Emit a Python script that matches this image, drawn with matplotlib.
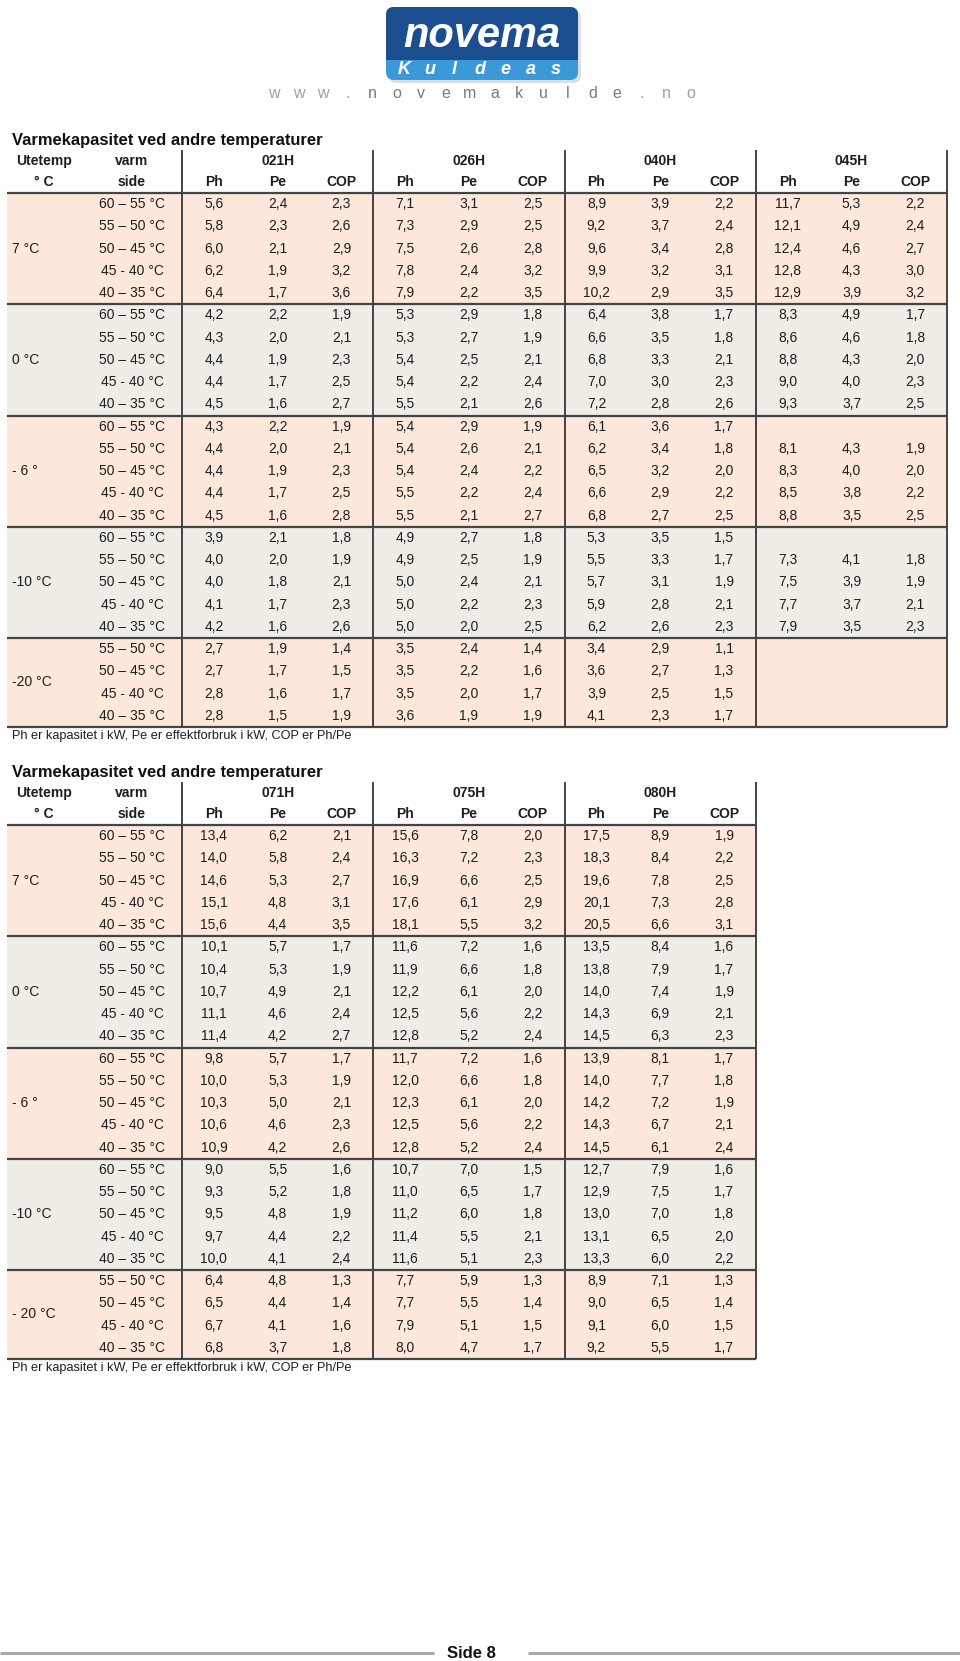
import numpy as np
import matplotlib.pyplot as plt
from matplotlib.patches import FancyBboxPatch, Rectangle
from matplotlib import font_manager


def pick_font(names):
    for n in names:
        try:
            font_manager.findfont(n, fallback_to_default=False)
            return n
        except ValueError:
            continue
    return 'DejaVu Sans'


NARROW = pick_font(['Liberation Sans Narrow', 'Arial Narrow', 'Liberation Sans'])
SANS = pick_font(['Liberation Sans', 'Arial', 'DejaVu Sans'])

# ---- data -------------------------------------------------------------
TITLE = 'Varmekapasitet ved andre temperaturer'
NOTE = 'Ph er kapasitet i kW, Pe er effektforbruk i kW, COP er Ph/Pe'
SIDE_5 = ['60 – 55 °C', '55 – 50 °C', '50 – 45 °C', '45 - 40 °C', '40 – 35 °C']
SIDE_4 = SIDE_5[1:]
GROUP_SIZES = [5, 5, 5, 5, 4]

T1_MODELS = ['021H', '026H', '040H', '045H']
T1_GROUPS = ['7 °C', '0 °C', '- 6 °', '-10 °C', '-20 °C']

ph_021h = [5.6, 5.8, 6.0, 6.2, 6.4, 4.2, 4.3, 4.4, 4.4, 4.5, 4.3, 4.4, 4.4, 4.4, 4.5,
           3.9, 4.0, 4.0, 4.1, 4.2, 2.7, 2.7, 2.8, 2.8]
pe_021h = [2.4, 2.3, 2.1, 1.9, 1.7, 2.2, 2.0, 1.9, 1.7, 1.6, 2.2, 2.0, 1.9, 1.7, 1.6,
           2.1, 2.0, 1.8, 1.7, 1.6, 1.9, 1.7, 1.6, 1.5]
cop_021h = [2.3, 2.6, 2.9, 3.2, 3.6, 1.9, 2.1, 2.3, 2.5, 2.7, 1.9, 2.1, 2.3, 2.5, 2.8,
            1.8, 1.9, 2.1, 2.3, 2.6, 1.4, 1.5, 1.7, 1.9]

ph_026h = [7.1, 7.3, 7.5, 7.8, 7.9, 5.3, 5.3, 5.4, 5.4, 5.5, 5.4, 5.4, 5.4, 5.5, 5.5,
           4.9, 4.9, 5.0, 5.0, 5.0, 3.5, 3.5, 3.5, 3.6]
pe_026h = [3.1, 2.9, 2.6, 2.4, 2.2, 2.9, 2.7, 2.5, 2.2, 2.1, 2.9, 2.6, 2.4, 2.2, 2.1,
           2.7, 2.5, 2.4, 2.2, 2.0, 2.4, 2.2, 2.0, 1.9]
cop_026h = [2.5, 2.5, 2.8, 3.2, 3.5, 1.8, 1.9, 2.1, 2.4, 2.6, 1.9, 2.1, 2.2, 2.4, 2.7,
            1.8, 1.9, 2.1, 2.3, 2.5, 1.4, 1.6, 1.7, 1.9]

ph_040h = [8.9, 9.2, 9.6, 9.9, 10.2, 6.4, 6.6, 6.8, 7.0, 7.2, 6.1, 6.2, 6.5, 6.6, 6.8,
           5.3, 5.5, 5.7, 5.9, 6.2, 3.4, 3.6, 3.9, 4.1]
pe_040h = [3.9, 3.7, 3.4, 3.2, 2.9, 3.8, 3.5, 3.3, 3.0, 2.8, 3.6, 3.4, 3.2, 2.9, 2.7,
           3.5, 3.3, 3.1, 2.8, 2.6, 2.9, 2.7, 2.5, 2.3]
cop_040h = [2.2, 2.4, 2.8, 3.1, 3.5, 1.7, 1.8, 2.1, 2.3, 2.6, 1.7, 1.8, 2.0, 2.2, 2.5,
            1.5, 1.7, 1.9, 2.1, 2.3, 1.1, 1.3, 1.5, 1.7]

ph_045h = [11.7, 12.1, 12.4, 12.8, 12.9, 8.3, 8.6, 8.8, 9.0, 9.3, None, 8.1, 8.3, 8.5, 8.8,
           None, 7.3, 7.5, 7.7, 7.9, None, None, None, None]
pe_045h = [5.3, 4.9, 4.6, 4.3, 3.9, 4.9, 4.6, 4.3, 4.0, 3.7, None, 4.3, 4.0, 3.8, 3.5,
           None, 4.1, 3.9, 3.7, 3.5, None, None, None, None]
cop_045h = [2.2, 2.4, 2.7, 3.0, 3.2, 1.7, 1.8, 2.0, 2.3, 2.5, None, 1.9, 2.0, 2.2, 2.5,
            None, 1.8, 1.9, 2.1, 2.3, None, None, None, None]

T2_MODELS = ['071H', '075H', '080H']
T2_GROUPS = ['7 °C', '0 °C', '- 6 °', '-10 °C', '- 20 °C']

ph_071h = [13.4, 14.0, 14.6, 15.1, 15.6, 10.1, 10.4, 10.7, 11.1, 11.4, 9.8, 10.0, 10.3, 10.6, 10.9,
           9.0, 9.3, 9.5, 9.7, 10.0, 6.4, 6.5, 6.7, 6.8]
pe_071h = [6.2, 5.8, 5.3, 4.8, 4.4, 5.7, 5.3, 4.9, 4.6, 4.2, 5.7, 5.3, 5.0, 4.6, 4.2,
           5.5, 5.2, 4.8, 4.4, 4.1, 4.8, 4.4, 4.1, 3.7]
cop_071h = [2.1, 2.4, 2.7, 3.1, 3.5, 1.7, 1.9, 2.1, 2.4, 2.7, 1.7, 1.9, 2.1, 2.3, 2.6,
            1.6, 1.8, 1.9, 2.2, 2.4, 1.3, 1.4, 1.6, 1.8]

ph_075h = [15.6, 16.3, 16.9, 17.6, 18.1, 11.6, 11.9, 12.2, 12.5, 12.8, 11.7, 12.0, 12.3, 12.5, 12.8,
           10.7, 11.0, 11.2, 11.4, 11.6, 7.7, 7.7, 7.9, 8.0]
pe_075h = [7.8, 7.2, 6.6, 6.1, 5.5, 7.2, 6.6, 6.1, 5.6, 5.2, 7.2, 6.6, 6.1, 5.6, 5.2,
           7.0, 6.5, 6.0, 5.5, 5.1, 5.9, 5.5, 5.1, 4.7]
cop_075h = [2.0, 2.3, 2.5, 2.9, 3.2, 1.6, 1.8, 2.0, 2.2, 2.4, 1.6, 1.8, 2.0, 2.2, 2.4,
            1.5, 1.7, 1.8, 2.1, 2.3, 1.3, 1.4, 1.5, 1.7]

ph_080h = [17.5, 18.3, 19.6, 20.1, 20.5, 13.5, 13.8, 14.0, 14.3, 14.5, 13.9, 14.0, 14.2, 14.3, 14.5,
           12.7, 12.9, 13.0, 13.1, 13.3, 8.9, 9.0, 9.1, 9.2]
pe_080h = [8.9, 8.4, 7.8, 7.3, 6.6, 8.4, 7.9, 7.4, 6.9, 6.3, 8.1, 7.7, 7.2, 6.7, 6.1,
           7.9, 7.5, 7.0, 6.5, 6.0, 7.1, 6.5, 6.0, 5.5]
cop_080h = [1.9, 2.2, 2.5, 2.8, 3.1, 1.6, 1.7, 1.9, 2.1, 2.3, 1.7, 1.8, 1.9, 2.1, 2.4,
            1.6, 1.7, 1.8, 2.0, 2.2, 1.3, 1.4, 1.5, 1.7]

T1_DATA = [(ph_021h, pe_021h, cop_021h), (ph_026h, pe_026h, cop_026h),
           (ph_040h, pe_040h, cop_040h), (ph_045h, pe_045h, cop_045h)]
T2_DATA = [(ph_071h, pe_071h, cop_071h), (ph_075h, pe_075h, cop_075h),
           (ph_080h, pe_080h, cop_080h)]

# ---- figure -----------------------------------------------------------
W, H = 960, 1661
fig = plt.figure(figsize=(W / 100, H / 100), dpi=100)
ax = fig.add_axes([0, 0, 1, 1])
ax.set_xlim(0, W)
ax.set_ylim(H, 0)
ax.axis('off')

FILLS = ['#fde8db', '#efede6']
LINE = '#444444'
TXT = '#1e1e1e'


def fmt(v):
    return '' if v is None else f'{v:.1f}'.replace('.', ',')


def draw_table(line_y, models, groups, data):
    x_left, x_side, block_w, row_h = 7, 182, 191.3, 22.25
    x_right = x_side + block_w * len(models)
    bottom = line_y + row_h * sum(GROUP_SIZES)

    ax.text(12, line_y - 53, TITLE, fontsize=11.9, fontweight='bold', family=SANS,
            ha='left', va='center', color='#111111')

    r = 0
    for gi, n in enumerate(GROUP_SIZES):
        y0 = line_y + r * row_h
        ax.add_patch(Rectangle((x_left, y0), x_right - x_left, n * row_h,
                               fc=FILLS[gi % 2], ec='none', zorder=0))
        ax.text(12, y0 + n * row_h / 2, groups[gi], fontsize=10, family=NARROW,
                ha='left', va='center', color=TXT)
        sides = SIDE_5 if n == 5 else SIDE_4
        for k in range(n):
            yc = y0 + (k + 0.5) * row_h
            ax.text(132, yc, sides[k], fontsize=10, family=NARROW,
                    ha='center', va='center', color=TXT)
            for m, cols in enumerate(data):
                for c, vals in enumerate(cols):
                    xc = x_side + m * block_w + (c + 0.5) * block_w / 3
                    ax.text(xc, yc, fmt(vals[r + k]), fontsize=10, family=NARROW,
                            ha='center', va='center', color=TXT)
        r += n
        ax.plot([x_left, x_right], [line_y + r * row_h] * 2, color=LINE, lw=1.6,
                solid_capstyle='butt')

    # header
    ax.plot([x_left, x_right], [line_y, line_y], color=LINE, lw=1.6, solid_capstyle='butt')
    hdr = dict(fontsize=10, family=NARROW, fontweight='bold', ha='center',
               va='center', color=TXT)
    ax.text(44, line_y - 32, 'Utetemp', **hdr)
    ax.text(44, line_y - 11, '° C', **hdr)
    ax.text(132, line_y - 32, 'varm', **hdr)
    ax.text(132, line_y - 11, 'side', **hdr)
    for m, name in enumerate(models):
        bx = x_side + m * block_w
        ax.text(bx + block_w / 2, line_y - 32, name, **hdr)
        for c, lab in enumerate(['Ph', 'Pe', 'COP']):
            ax.text(bx + (c + 0.5) * block_w / 3, line_y - 11, lab, **hdr)

    for m in range(len(models) + 1):
        xv = x_side + m * block_w
        ax.plot([xv, xv], [line_y - 43, bottom], color=LINE, lw=1.4,
                solid_capstyle='butt')

    ax.text(12, bottom + 9, NOTE, fontsize=9.2, family=SANS, ha='left',
            va='center', color=TXT)


draw_table(193, T1_MODELS, T1_GROUPS, T1_DATA)
draw_table(825, T2_MODELS, T2_GROUPS, T2_DATA)

# ---- logo -------------------------------------------------------------
lx0, lx1, ly0, ly1 = 386, 578, 7, 80
ax.add_patch(FancyBboxPatch((lx0 + 3, ly0 + 3), lx1 - lx0, ly1 - ly0,
                            boxstyle='round,pad=0,rounding_size=8',
                            fc='#c8c8c8', ec='none', alpha=0.6))
ax.add_patch(FancyBboxPatch((lx0, ly0), lx1 - lx0, ly1 - ly0,
                            boxstyle='round,pad=0,rounding_size=8',
                            fc='#3b99d8', ec='none'))
ax.add_patch(FancyBboxPatch((lx0, ly0), lx1 - lx0, 60,
                            boxstyle='round,pad=0,rounding_size=8',
                            fc='#1b4e8e', ec='none'))
ax.add_patch(Rectangle((lx0, 60), lx1 - lx0, 10, fc='#3b99d8', ec='none'))
ax.text(482, 36, 'novema', fontsize=30, fontweight='bold', style='italic',
        family=SANS, color='white', ha='center', va='center')
for i, ch in enumerate('Kuldeas'):
    ax.text(404 + i * 25.3, 70, ch, fontsize=13, fontweight='bold', style='italic',
            family=SANS, color='white', ha='center', va='center')
url = 'www.novemakulde.no'
for i, ch in enumerate(url):
    dark = 4 <= i <= 14
    ax.text(274 + i * 24.5, 94, ch, fontsize=11.5, family=SANS,
            color='#7a7a7a' if dark else '#a0a0a0', ha='center', va='center')

# ---- footer -----------------------------------------------------------
ax.plot([0, 434], [1653, 1653], color='#a8a8a8', lw=2.2, solid_capstyle='butt')
ax.plot([528, 960], [1653, 1653], color='#a8a8a8', lw=2.2, solid_capstyle='butt')
ax.text(471, 1654, 'Side 8', fontsize=12, fontweight='bold', family=NARROW,
        ha='center', va='center', color='#111111')

fig.savefig('out.png', dpi=100)
